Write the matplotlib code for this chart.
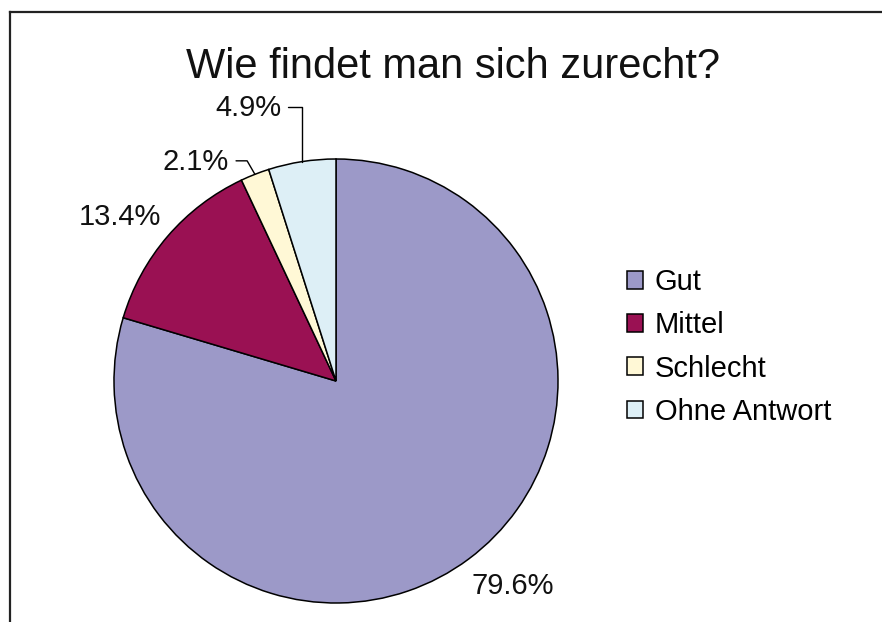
import numpy as np
import matplotlib
matplotlib.use("Agg")
import matplotlib.pyplot as plt
from matplotlib.lines import Line2D

plt.rcParams['font.family'] = ['Liberation Sans', 'DejaVu Sans']

# data
title = "Wie findet man sich zurecht?"
categories = ["Gut", "Mittel", "Schlecht", "Ohne Antwort"]
shares = [79.6, 13.4, 2.1, 4.9]
colors = ["#9C99C8", "#9A1153", "#FFF8D6", "#DDEFF6"]

# label placement: (radius, angle offset from wedge middle, leader line?)
label_place = [(1.22, 4.0, False), (1.22, 3.5, False), (1.17, 11.2, True), (1.29, 9.0, True)]

W, H = 882, 622
fig = plt.figure(figsize=(W / 100, H / 100), dpi=100)

# pie centre and radius in pixels
cx, cy, R = 336, 622 - 381, 222
half = 240
ax = fig.add_axes([(cx - half) / W, (cy - half) / H, 2 * half / W, 2 * half / H])

wedges, _ = ax.pie(shares, colors=colors, startangle=90, counterclock=False,
                   radius=1.0, wedgeprops=dict(edgecolor="black", linewidth=1.1))
lim = half / R
ax.set_xlim(-lim, lim)
ax.set_ylim(-lim, lim)
ax.set_aspect("equal")
ax.axis("off")

for w, val, (r, dth, leader) in zip(wedges, shares, label_place):
    mid = np.deg2rad((w.theta1 + w.theta2) / 2)
    ang = mid + np.deg2rad(dth)
    tx, ty = r * np.cos(ang), r * np.sin(ang)
    txt = f"{val:.1f}%"
    if leader:
        ax.annotate(txt, xy=(np.cos(mid), np.sin(mid)), xytext=(tx, ty),
                    ha="center", va="center", fontsize=21, color="#111111",
                    arrowprops=dict(arrowstyle="-", color="black", lw=1.0,
                                    relpos=(1.0, 0.55), shrinkA=3, shrinkB=0,
                                    connectionstyle="angle,angleA=0,angleB=%d" % (90 if val > 3 else 120)))
    else:
        ax.text(tx, ty, txt, ha="center", va="center", fontsize=21, color="#111111")

fig.text(453.5 / W, 1 - 78 / H, title, ha="center", va="baseline", fontsize=30, color="#111111")

fig.legend(wedges, categories, loc="center left", bbox_to_anchor=(627 / W, 1 - 347 / H),
           frameon=False, fontsize=21, handlelength=0.55, handleheight=0.55,
           handletextpad=0.4, labelspacing=0.52, borderpad=0, borderaxespad=0)

# frame (top and left edges only)
fig.add_artist(Line2D([10 / W, 10 / W], [0, 1 - 12 / H], color="#222222", lw=1.6))
fig.add_artist(Line2D([10 / W, 1], [1 - 12 / H, 1 - 12 / H], color="#222222", lw=1.6))

fig.savefig("out.png", dpi=100)
